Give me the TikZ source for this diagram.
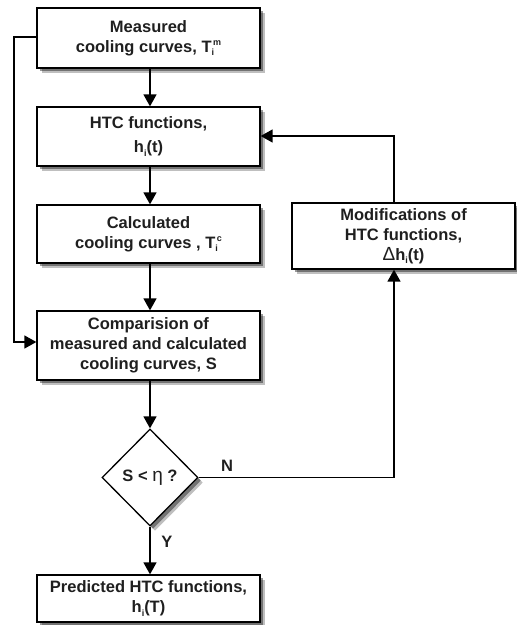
\documentclass[tikz,border=0pt]{standalone}
\usepackage{fontspec}
\setmainfont{Liberation Sans}
\usetikzlibrary{shapes.geometric,shadows,arrows.meta}
\newcommand{\ssub}[2]{#1\makebox[0pt][l]{\raisebox{-3.5pt}{\fontsize{9}{9}\selectfont i}}\hspace{1.5pt}\raisebox{6.5pt}{\fontsize{9}{9}\selectfont #2}}
\newcommand{\hsub}[1]{h\raisebox{-3.5pt}{\fontsize{9}{9}\selectfont i}#1}
\begin{document}
\begin{tikzpicture}[x=1pt,y=-1pt,
  shad/.style={drop shadow={shadow xshift=5pt,shadow yshift=-5pt,opacity=0.25,fill=black},
               drop shadow={shadow xshift=3pt,shadow yshift=-3pt,opacity=0.4,fill=black}},
  box/.style={draw=black,line width=1.3pt,fill=white,minimum width=223pt,align=center,
    font=\fontsize{16.5}{20}\selectfont\bfseries,text=black!88,inner sep=2pt,shad},
  dia/.style={draw=black,line width=1.3pt,fill=white,diamond,minimum width=96pt,minimum height=97pt,inner sep=0pt,
    font=\fontsize{16.5}{20}\selectfont\bfseries,text=black!88,shad},
  conn/.style={line width=1.4pt,-{Triangle[length=12pt,width=13pt]}},
  lab/.style={font=\fontsize{16.5}{18}\selectfont\bfseries,text=black!88}]
\useasboundingbox (0,0) rectangle (517,625);
\node[box,minimum height=60pt] (m) at (148.5,38) {Measured\\cooling curves, \ssub{T}{m}};
\node[box,minimum height=59pt] (h) at (148.5,136.5) {HTC functions,\\[4pt] \hsub{(t)}};
\node[box,minimum height=58pt] (c) at (148.5,234) {Calculated\\cooling curves , \ssub{T}{c}};
\node[box,minimum height=69pt] (s) at (148.5,345.5) {Comparision of\\measured and calculated\\cooling curves, S};
\node[dia] (d) at (150,477.5) {S < {\mdseries\fontsize{19}{19}\selectfont η} ?};
\node[box,minimum height=47pt] (p) at (148.5,598.5) {Predicted HTC functions,\\\hsub{(T)}};
\node[box,minimum width=223pt,minimum height=66pt] (mod) at (403.5,236) {Modifications of\\HTC functions,\\{\mdseries\fontsize{19}{19}\selectfont Δ}\hsub{(t)}};
\coordinate (l1) at (14,37);
\coordinate (l2) at (14,342);
\coordinate (n1) at (394,477.5);
\coordinate (f1) at (394,136);
\draw[conn] (m.south -| 150,0) -- (h.north -| 150,0);
\draw[conn] (h.south -| 150,0) -- (c.north -| 150,0);
\draw[conn] (c.south -| 150,0) -- (s.north -| 150,0);
\draw[conn] (s.south -| 150,0) -- (d.north);
\draw[conn] (d.south) -- (p.north -| 150,0);
\draw[conn] (m.west |- l1) -- (l1) -- (l2) -- (s.west |- l2);
\draw[conn] (d.east) -- (n1) -- (mod.south -| n1);
\draw[conn] (mod.north -| f1) -- (f1) -- (h.east |- f1);
\node[lab] (nl) at (227,466) {N};
\node[lab] (yl) at (167,542) {Y};
\end{tikzpicture}
\end{document}
